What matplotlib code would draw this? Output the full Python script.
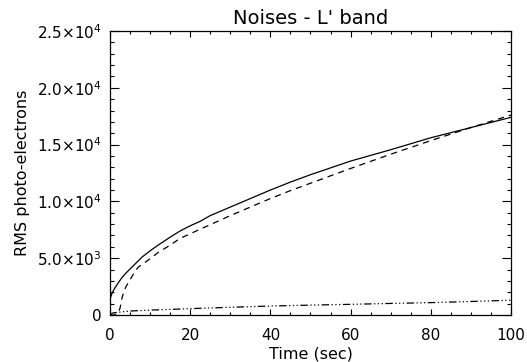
import matplotlib
matplotlib.use("Agg")
import matplotlib.pyplot as plt
from matplotlib.ticker import MultipleLocator, FuncFormatter

# values
t_solid = [0, 0.5, 1, 2, 3, 4, 5, 6, 7, 8, 10, 12, 15, 17.5, 20, 22.5, 25, 30,
           35, 40, 45, 50, 60, 70, 80, 90, 100]
total = [1400, 1900, 2250, 2800, 3300, 3700, 4050, 4400, 4750, 5100, 5650, 6150,
         6850, 7400, 7850, 8250, 8750, 9500, 10250, 11000, 11700, 12350, 13550,
         14550, 15600, 16500, 17400]

t_dash = [0, 1, 2, 2.5, 3, 3.5, 4, 5, 6, 7, 8, 10, 12, 15, 17.5, 20, 22.5, 25,
          30, 35, 40, 45, 50, 60, 70, 80, 90, 100]
photon = [0, 0, 150, 600, 1500, 2100, 2500, 3100, 3700, 4200, 4450, 4950, 5500,
          6150, 6750, 7150, 7560, 7950, 8750, 9500, 10250, 10950, 11600, 12900,
          14150, 15350, 16500, 17600]

t_dd = [0, 0.5, 1, 5, 10, 20, 30, 40, 50, 60, 70, 80, 90, 100]
dark = [0, 150, 200, 350, 430, 560, 680, 790, 870, 940, 1020, 1090, 1190, 1300]


def sci(v, pos):
    if v == 0:
        return "0"
    e = 0
    m = v
    while abs(m) >= 10:
        m /= 10.0
        e += 1
    return r"$%.1f{\times}10^{%d}$" % (m, e)


fig = plt.figure(figsize=(5.27, 3.62), dpi=100)
ax = fig.add_axes([0.2087, 0.1298, 0.7609, 0.7846])

ax.plot(t_solid, total, color="black", lw=0.9)
ax.plot(t_dash, photon, color="black", lw=0.9, dashes=[5, 4])
ax.plot(t_dd, dark, color="black", lw=0.9, dashes=[6, 2, 1, 2, 1, 2, 1, 2])

ax.set_xlim(0, 100)
ax.set_ylim(0, 25000)
ax.xaxis.set_major_locator(MultipleLocator(20))
ax.xaxis.set_minor_locator(MultipleLocator(5))
ax.yaxis.set_major_locator(MultipleLocator(5000))
ax.yaxis.set_minor_locator(MultipleLocator(1000))
ax.yaxis.set_major_formatter(FuncFormatter(sci))

ax.tick_params(axis="both", which="both", direction="in", top=True, right=True,
               labelsize=11, width=0.8, color="black")
ax.tick_params(axis="x", which="major", length=4.3, pad=9)
ax.tick_params(axis="x", which="minor", length=2.2)
ax.tick_params(axis="y", which="major", length=6.5, pad=6)
ax.tick_params(axis="y", which="minor", length=3.2)
for s in ax.spines.values():
    s.set_linewidth(0.9)

ax.set_xlabel("Time (sec)", fontsize=11.5, labelpad=3)
ax.set_ylabel("RMS photo-electrons", fontsize=11.5, labelpad=5)
ax.set_title("Noises - L' band", fontsize=14, pad=5)

fig.savefig("out.png", dpi=100)
